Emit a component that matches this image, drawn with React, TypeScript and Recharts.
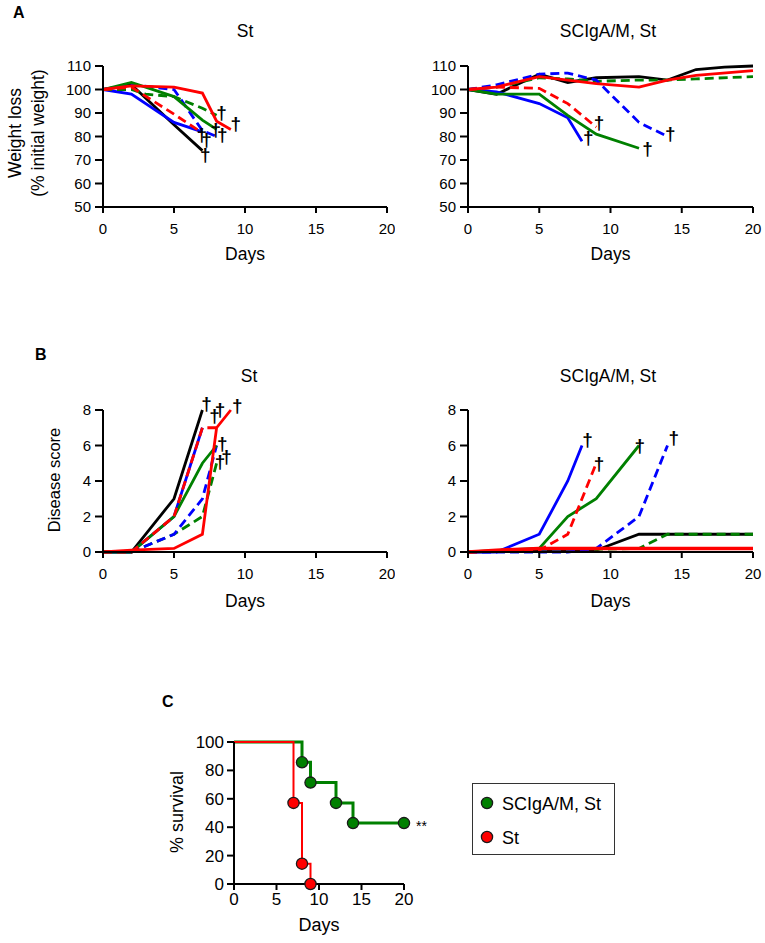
import React from 'react';
import { ComposedChart, Line, Scatter, XAxis, YAxis, Legend } from 'recharts';

const FONT = '"Liberation Sans", Arial, Helvetica, sans-serif';
const C_BLACK = '#000000';
const C_BLUE = '#0000ff';
const C_RED = '#ff0000';
const C_GREEN = '#008000';

type Pt = { x: number; y: number };

const dayTicks = [0, 5, 10, 15, 20];
const weightTicks = [50, 60, 70, 80, 90, 100, 110];
const scoreTicks = [0, 2, 4, 6, 8];
const survivalTicks = [0, 20, 40, 60, 80, 100];

const titleSt = 'St';
const titleTreated = 'SCIgA/M, St';
const significance = '**';

// ---------- A: weight, St ----------
const wStBlack: Pt[] = [{ x: 0, y: 100 }, { x: 2, y: 102 }, { x: 5, y: 85 }, { x: 7, y: 74 }];
const wStBlue: Pt[] = [{ x: 0, y: 100 }, { x: 2, y: 98 }, { x: 5, y: 86 }, { x: 7, y: 82 }];
const wStBlueDash: Pt[] = [{ x: 0, y: 100 }, { x: 2, y: 102 }, { x: 5, y: 100 }, { x: 7, y: 82.5 }, { x: 8, y: 80 }];
const wStRed: Pt[] = [{ x: 0, y: 100 }, { x: 2, y: 101.5 }, { x: 5, y: 101 }, { x: 7, y: 98.5 }, { x: 8, y: 86.5 }, { x: 9, y: 83 }];
const wStRedDash: Pt[] = [{ x: 0, y: 100 }, { x: 2, y: 101 }, { x: 5, y: 89.5 }, { x: 7, y: 81.5 }];
const wStGreen: Pt[] = [{ x: 0, y: 100 }, { x: 2, y: 103 }, { x: 5, y: 97 }, { x: 7, y: 87 }, { x: 8, y: 83 }];
const wStGreenDash: Pt[] = [{ x: 0, y: 100 }, { x: 2, y: 100 }, { x: 3, y: 98 }, { x: 5, y: 97 }, { x: 7, y: 92 }, { x: 8, y: 89 }];
const wStDaggers: Pt[] = [
  { x: 6.95, y: 76.6 }, { x: 7.3, y: 74.6 }, { x: 7.2, y: 68.4 }, { x: 8.35, y: 86 },
  { x: 7.95, y: 78.9 }, { x: 8.4, y: 76.6 }, { x: 9.35, y: 81.3 },
];

// ---------- A: weight, SCIgA/M, St ----------
const wTrBlack: Pt[] = [{ x: 0, y: 100 }, { x: 2, y: 98 }, { x: 5, y: 106.5 }, { x: 7, y: 103 }, { x: 9, y: 105 }, { x: 12, y: 105.5 }, { x: 14, y: 104 }, { x: 16, y: 108.5 }, { x: 18, y: 109.5 }, { x: 20, y: 110 }];
const wTrRed: Pt[] = [{ x: 0, y: 100 }, { x: 2, y: 101 }, { x: 5, y: 105.5 }, { x: 7, y: 104 }, { x: 9, y: 102.5 }, { x: 12, y: 101 }, { x: 14, y: 104 }, { x: 16, y: 106 }, { x: 20, y: 108 }];
const wTrGreenDash: Pt[] = [{ x: 0, y: 100 }, { x: 2, y: 101 }, { x: 5, y: 105 }, { x: 7, y: 104.5 }, { x: 9, y: 103.5 }, { x: 12, y: 104 }, { x: 14, y: 104 }, { x: 16, y: 104.5 }, { x: 20, y: 105.5 }];
const wTrBlueDash: Pt[] = [{ x: 0, y: 100 }, { x: 2, y: 102 }, { x: 5, y: 106.5 }, { x: 7, y: 107 }, { x: 9, y: 104 }, { x: 12, y: 86 }, { x: 14, y: 80 }];
const wTrRedDash: Pt[] = [{ x: 0, y: 100 }, { x: 2, y: 101 }, { x: 5, y: 100.5 }, { x: 7, y: 94 }, { x: 9, y: 84 }];
const wTrBlue: Pt[] = [{ x: 0, y: 100 }, { x: 2, y: 99 }, { x: 5, y: 94 }, { x: 7, y: 88 }, { x: 8, y: 78 }];
const wTrGreen: Pt[] = [{ x: 0, y: 100 }, { x: 2, y: 98 }, { x: 5, y: 98 }, { x: 7, y: 89 }, { x: 9, y: 81 }, { x: 12, y: 75 }];
const wTrDaggers: Pt[] = [{ x: 8.44, y: 75.7 }, { x: 9.2, y: 82.1 }, { x: 12.6, y: 70.8 }, { x: 14.2, y: 77.1 }];

// ---------- B: disease score, St ----------
const sStBlack: Pt[] = [{ x: 0, y: 0 }, { x: 2, y: 0 }, { x: 5, y: 3 }, { x: 7, y: 8 }];
const sStBlue: Pt[] = [{ x: 0, y: 0 }, { x: 2, y: 0 }, { x: 5, y: 2 }, { x: 7, y: 7 }];
const sStRedDash: Pt[] = [{ x: 0, y: 0 }, { x: 2, y: 0 }, { x: 5, y: 2 }, { x: 7, y: 7 }, { x: 8, y: 7 }];
const sStBlueDash: Pt[] = [{ x: 0, y: 0 }, { x: 2, y: 0 }, { x: 5, y: 1 }, { x: 7, y: 3 }, { x: 8, y: 6 }];
const sStGreen: Pt[] = [{ x: 0, y: 0 }, { x: 2, y: 0 }, { x: 5, y: 2 }, { x: 7, y: 5 }, { x: 8, y: 6 }];
const sStGreenDash: Pt[] = [{ x: 0, y: 0 }, { x: 2, y: 0 }, { x: 5, y: 1 }, { x: 7, y: 2 }, { x: 8, y: 5 }];
const sStRed: Pt[] = [{ x: 0, y: 0 }, { x: 2, y: 0.1 }, { x: 5, y: 0.2 }, { x: 7, y: 1 }, { x: 8, y: 7 }, { x: 9, y: 8 }];
const sStDaggers: Pt[] = [
  { x: 7.3, y: 7.85 }, { x: 7.85, y: 7.15 }, { x: 8.25, y: 7.5 }, { x: 9.45, y: 7.7 },
  { x: 8.4, y: 5.55 }, { x: 8.25, y: 4.55 }, { x: 8.7, y: 4.85 },
];

// ---------- B: disease score, SCIgA/M, St ----------
const sTrBlack: Pt[] = [{ x: 0, y: 0 }, { x: 9, y: 0.1 }, { x: 12, y: 1 }, { x: 16, y: 1 }, { x: 20, y: 1 }];
const sTrGreenDash: Pt[] = [{ x: 0, y: 0 }, { x: 12, y: 0.2 }, { x: 14, y: 1 }, { x: 20, y: 1 }];
const sTrBlue: Pt[] = [{ x: 0, y: 0 }, { x: 2, y: 0 }, { x: 5, y: 1 }, { x: 7, y: 4 }, { x: 8, y: 6 }];
const sTrBlueDash: Pt[] = [{ x: 0, y: 0 }, { x: 7, y: 0 }, { x: 9, y: 0.2 }, { x: 12, y: 2 }, { x: 14, y: 6 }];
const sTrGreen: Pt[] = [{ x: 0, y: 0 }, { x: 5, y: 0.2 }, { x: 7, y: 2 }, { x: 9, y: 3 }, { x: 12, y: 6 }];
const sTrRedDash: Pt[] = [{ x: 0, y: 0 }, { x: 5, y: 0.1 }, { x: 7, y: 1 }, { x: 9, y: 5 }];
const sTrRed: Pt[] = [{ x: 0, y: 0 }, { x: 2, y: 0.1 }, { x: 5, y: 0.2 }, { x: 20, y: 0.2 }];
const sTrDaggers: Pt[] = [{ x: 8.38, y: 5.8 }, { x: 9.2, y: 4.45 }, { x: 12.05, y: 5.45 }, { x: 14.45, y: 5.9 }];

// ---------- C: survival ----------
const survTreated: Pt[] = [{ x: 0, y: 100 }, { x: 8, y: 85.7 }, { x: 9, y: 71.4 }, { x: 12, y: 57.1 }, { x: 14, y: 42.9 }, { x: 20, y: 42.9 }];
const survSt: Pt[] = [{ x: 0, y: 100 }, { x: 7, y: 57.1 }, { x: 8, y: 14.3 }, { x: 9, y: 0 }];

type Series = { name: string; data: Pt[]; color: string; dashed?: boolean; width?: number };

const seriesWSt: Series[] = [
  { name: 'black', data: wStBlack, color: C_BLACK },
  { name: 'blue', data: wStBlue, color: C_BLUE },
  { name: 'greenDash', data: wStGreenDash, color: C_GREEN, dashed: true },
  { name: 'blueDash', data: wStBlueDash, color: C_BLUE, dashed: true },
  { name: 'green', data: wStGreen, color: C_GREEN },
  { name: 'redDash', data: wStRedDash, color: C_RED, dashed: true },
  { name: 'red', data: wStRed, color: C_RED },
];
const seriesWTr: Series[] = [
  { name: 'black', data: wTrBlack, color: C_BLACK },
  { name: 'greenDash', data: wTrGreenDash, color: C_GREEN, dashed: true },
  { name: 'blue', data: wTrBlue, color: C_BLUE },
  { name: 'blueDash', data: wTrBlueDash, color: C_BLUE, dashed: true },
  { name: 'green', data: wTrGreen, color: C_GREEN },
  { name: 'redDash', data: wTrRedDash, color: C_RED, dashed: true },
  { name: 'red', data: wTrRed, color: C_RED },
];
const seriesSSt: Series[] = [
  { name: 'black', data: sStBlack, color: C_BLACK },
  { name: 'blue', data: sStBlue, color: C_BLUE },
  { name: 'greenDash', data: sStGreenDash, color: C_GREEN, dashed: true },
  { name: 'blueDash', data: sStBlueDash, color: C_BLUE, dashed: true },
  { name: 'green', data: sStGreen, color: C_GREEN },
  { name: 'redDash', data: sStRedDash, color: C_RED, dashed: true },
  { name: 'red', data: sStRed, color: C_RED },
];
const seriesSTr: Series[] = [
  { name: 'black', data: sTrBlack, color: C_BLACK },
  { name: 'greenDash', data: sTrGreenDash, color: C_GREEN, dashed: true },
  { name: 'blue', data: sTrBlue, color: C_BLUE },
  { name: 'blueDash', data: sTrBlueDash, color: C_BLUE, dashed: true },
  { name: 'green', data: sTrGreen, color: C_GREEN },
  { name: 'redDash', data: sTrRedDash, color: C_RED, dashed: true },
  { name: 'red', data: sTrRed, color: C_RED, width: 3.6 },
];

const tickStyle = { fontSize: 15, fill: '#000', fontFamily: FONT };
const axisStroke = { stroke: '#000', strokeWidth: 2 };

const Dagger = (props: any) => {
  const { cx, cy } = props;
  if (cx == null || cy == null) return <g />;
  return (
    <text x={cx} y={cy} dy={-3} textAnchor="middle" fontFamily={FONT} fontSize={19} fontWeight="bold" fill="#000">
      †
    </text>
  );
};

const daysLabel = (offset: number, fs: number) => (p: any) => {
  const vb = p.viewBox || {};
  if (vb.x == null) return null;
  return (
    <text x={vb.x + vb.width / 2} y={vb.y + offset} textAnchor="middle" fontSize={fs} fontFamily={FONT} fill="#000">
      Days
    </text>
  );
};

const rotatedLabel = (lines: string[], xs: number[], cy: number, fs: number) => () => (
  <g>
    {lines.map((t, i) => (
      <text
        key={i}
        x={xs[i]}
        y={cy}
        transform={`rotate(-90 ${xs[i]} ${cy})`}
        textAnchor="middle"
        fontSize={fs}
        fontFamily={FONT}
        fill="#000"
      >
        {t}
      </text>
    ))}
  </g>
);

function LinePanel(props: {
  left: number; top: number; width: number; height: number;
  yAxisWidth: number; marginTop: number; marginRight: number; xAxisHeight: number;
  yDomain: [number, number]; yTicks: number[];
  series: Series[]; daggers: Pt[];
  yLabel?: any; daysOffset: number;
}) {
  const { left, top, width, height, yAxisWidth, marginTop, marginRight, xAxisHeight, yDomain, yTicks, series, daggers, yLabel, daysOffset } = props;
  return (
    <div style={{ position: 'absolute', left, top, width, height }}>
      <ComposedChart width={width} height={height} margin={{ top: marginTop, right: marginRight, bottom: 0, left: 0 }}>
        <XAxis
          type="number" dataKey="x" domain={[0, 20]} ticks={dayTicks} interval={0}
          tick={tickStyle} tickSize={6} tickMargin={10} height={xAxisHeight}
          axisLine={axisStroke} tickLine={axisStroke}
          label={daysLabel(daysOffset, 17.5)}
        />
        <YAxis
          type="number" domain={yDomain} ticks={yTicks} interval={0} width={yAxisWidth}
          tick={tickStyle} tickSize={8} tickMargin={4}
          axisLine={axisStroke} tickLine={axisStroke}
          label={yLabel}
        />
        {series.map((s) => (
          <Line
            key={s.name}
            name={s.name}
            data={s.data}
            dataKey="y"
            type="linear"
            stroke={s.color}
            strokeWidth={s.width || 2.8}
            strokeDasharray={s.dashed ? '9 5' : undefined}
            dot={false}
            activeDot={false}
            isAnimationActive={false}
            legendType="none"
          />
        ))}
        <Scatter data={daggers} dataKey="y" shape={Dagger} isAnimationActive={false} legendType="none" />
      </ComposedChart>
    </div>
  );
}

const survDot = (fill: string, mark: boolean) => (p: any) => {
  const { cx, cy, index } = p;
  if (index === 0 || cx == null) return <g key={`d-${index}`} />;
  const isLast = mark && index === survTreated.length - 1;
  return (
    <g key={`d-${index}`}>
      <circle cx={cx} cy={cy} r={5.6} fill={fill} stroke="#1a1a1a" strokeWidth={1.3} />
      {isLast ? (
        <text x={cx + 12} y={cy + 8} fontSize={14} fontFamily={FONT} fill="#000">
          {significance}
        </text>
      ) : null}
    </g>
  );
};

const renderLegend = (props: any) => {
  const payload = (props && props.payload) || [];
  return (
    <div style={{ width: 143, height: 72, border: '1px solid #333', boxSizing: 'border-box', background: '#fff' }}>
      <svg width={141} height={70}>
        {payload.map((e: any, i: number) => (
          <g key={i}>
            <circle cx={14} cy={19 + i * 34} r={5.6} fill={e.color} stroke="#1a1a1a" strokeWidth={1.3} />
            <text x={29} y={25.5 + i * 34} fontSize={18} fontFamily={FONT} fill="#000">
              {e.value}
            </text>
          </g>
        ))}
      </svg>
    </div>
  );
};

export default function App() {
  return (
    <div style={{ position: 'absolute', left: 0, top: 0, width: 765, height: 943, background: '#fff', fontFamily: FONT }}>
      <svg width={765} height={943} style={{ position: 'absolute', left: 0, top: 0, pointerEvents: 'none' }}>
        <text x={13} y={18} fontSize={16} fontWeight="bold" fontFamily={FONT}>A</text>
        <text x={245} y={37} fontSize={17.5} textAnchor="middle" fontFamily={FONT}>{titleSt}</text>
        <text x={608} y={37} fontSize={17.5} textAnchor="middle" fontFamily={FONT}>{titleTreated}</text>
        <text x={35} y={360} fontSize={16} fontWeight="bold" fontFamily={FONT}>B</text>
        <text x={249} y={382} fontSize={17.5} textAnchor="middle" fontFamily={FONT}>{titleSt}</text>
        <text x={608} y={382} fontSize={17.5} textAnchor="middle" fontFamily={FONT}>{titleTreated}</text>
        <text x={162} y={707} fontSize={16} fontWeight="bold" fontFamily={FONT}>C</text>
      </svg>

      <LinePanel
        left={0} top={46} width={395} height={221}
        yAxisWidth={103} marginTop={20} marginRight={8} xAxisHeight={60}
        yDomain={[50, 110]} yTicks={weightTicks}
        series={seriesWSt} daggers={wStDaggers}
        yLabel={rotatedLabel(['Weight loss', '(% initial weight)'], [20.5, 44], 87, 17.5)}
        daysOffset={53}
      />
      <LinePanel
        left={420} top={46} width={345} height={221}
        yAxisWidth={48} marginTop={20} marginRight={12} xAxisHeight={60}
        yDomain={[50, 110]} yTicks={weightTicks}
        series={seriesWTr} daggers={wTrDaggers}
        daysOffset={53}
      />
      <LinePanel
        left={0} top={390} width={395} height={222}
        yAxisWidth={103} marginTop={20} marginRight={8} xAxisHeight={60}
        yDomain={[0, 8]} yTicks={scoreTicks}
        series={seriesSSt} daggers={sStDaggers}
        yLabel={rotatedLabel(['Disease score'], [59.5], 90, 16.5)}
        daysOffset={55}
      />
      <LinePanel
        left={420} top={390} width={345} height={222}
        yAxisWidth={48} marginTop={20} marginRight={12} xAxisHeight={60}
        yDomain={[0, 8]} yTicks={scoreTicks}
        series={seriesSTr} daggers={sTrDaggers}
        daysOffset={55}
      />

      <div style={{ position: 'absolute', left: 150, top: 702, width: 470, height: 237 }}>
        <ComposedChart width={470} height={237} margin={{ top: 40, right: 216, bottom: 0, left: 0 }}>
          <XAxis
            type="number" dataKey="x" domain={[0, 20]} ticks={dayTicks} interval={0}
            tick={{ ...tickStyle, fontSize: 17 }} tickSize={6} tickMargin={3} height={55}
            axisLine={axisStroke} tickLine={axisStroke}
            label={daysLabel(47, 18)}
          />
          <YAxis
            type="number" domain={[0, 100]} ticks={survivalTicks} interval={0} width={84}
            tick={{ ...tickStyle, fontSize: 17 }} tickSize={7} tickMargin={3}
            axisLine={axisStroke} tickLine={axisStroke}
            label={rotatedLabel(['% survival'], [33], 110, 18)}
          />
          <Legend
            layout="vertical" align="center" verticalAlign="middle"
            content={renderLegend}
            wrapperStyle={{ left: 322, top: 81, width: 143, height: 72 }}
          />
          <Line
            name={titleTreated} data={survTreated} dataKey="y" type="stepAfter"
            stroke={C_GREEN} strokeWidth={3} dot={survDot(C_GREEN, true)} activeDot={false}
            isAnimationActive={false}
          />
          <Line
            name={titleSt} data={survSt} dataKey="y" type="stepAfter"
            stroke={C_RED} strokeWidth={2} dot={survDot(C_RED, false)} activeDot={false}
            isAnimationActive={false}
          />
        </ComposedChart>
      </div>
    </div>
  );
}
